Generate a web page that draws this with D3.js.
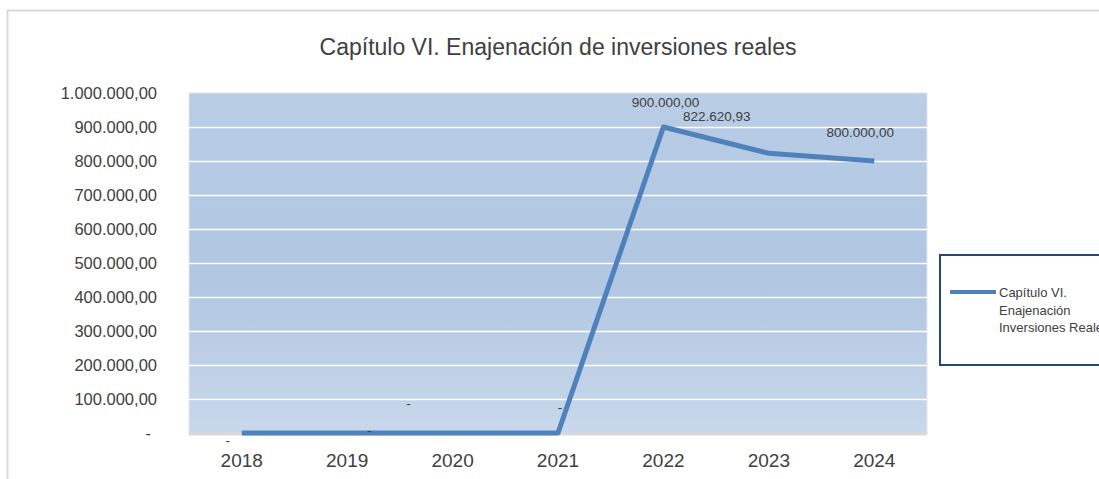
<!DOCTYPE html>
<html>
<head>
<meta charset="utf-8">
<script src="https://cdn.jsdelivr.net/npm/d3@7"></script>
<style>
  body { margin: 0; background: #fff; }
  svg { display: block; font-family: "Liberation Sans", Arial, sans-serif; }
</style>
</head>
<body>
<div id="chart"></div>
<script>
// data
var years = ["2018", "2019", "2020", "2021", "2022", "2023", "2024"];
var values = [0, 0, 0, 0, 900000, 822620.93, 800000];
var yTicks = [0, 100000, 200000, 300000, 400000, 500000, 600000, 700000, 800000, 900000, 1000000];
var seriesName = ["Capítulo VI.", "Enajenación", "Inversiones Reales"];
var title = "Capítulo VI. Enajenación de inversiones reales";

var svgWidth = 1099;
var svgHeight = 479;

var margin = { top: 93, left: 189, right: 172, bottom: 45 };
var width = svgWidth - margin.left - margin.right;
var height = svgHeight - margin.top - margin.bottom;

var es = d3.formatLocale({ decimal: ",", thousands: ".", grouping: [3], currency: ["", " €"] });
var fmt = es.format(",.2f");
function label(v) { return v === 0 ? "-" : fmt(v); }

var svg = d3.select("#chart")
  .append("svg")
  .attr("width", svgWidth)
  .attr("height", svgHeight);

// outer chart border (runs off the right/bottom edges)
svg.append("rect")
  .attr("x", 7.5).attr("y", 10.5)
  .attr("width", 1200).attr("height", 600)
  .attr("fill", "none")
  .attr("stroke", "#d9d9d9")
  .attr("stroke-width", 2);

// gradient for plot area
var grad = svg.append("defs").append("linearGradient")
  .attr("id", "bg").attr("x1", 0).attr("y1", 0).attr("x2", 0).attr("y2", 1);
grad.append("stop").attr("offset", "0%").attr("stop-color", "#b9cde5");
grad.append("stop").attr("offset", "55%").attr("stop-color", "#b0c6e1");
grad.append("stop").attr("offset", "100%").attr("stop-color", "#c9d8eb");

svg.append("text")
  .attr("x", 558).attr("y", 55)
  .attr("text-anchor", "middle")
  .attr("font-size", 23)
  .attr("fill", "#404040")
  .text(title);

var chartGroup = svg.append("g")
  .attr("transform", `translate(${margin.left}, ${margin.top})`);

// scales
var xScale = d3.scaleBand()
  .domain(years)
  .range([0, width]);

var yScale = d3.scaleLinear()
  .domain([0, 1000000])
  .range([height - 1, 0]);

chartGroup.append("rect")
  .attr("x", 0).attr("y", 0)
  .attr("width", width).attr("height", height)
  .attr("fill", "url(#bg)")
  .attr("stroke", "#e6e6e6")
  .attr("stroke-width", 1);

// gridlines
chartGroup.selectAll(".grid")
  .data(yTicks.filter(d => d > 0 && d < 1000000))
  .enter()
  .append("line")
  .attr("x1", 0).attr("x2", width)
  .attr("y1", d => Math.round(yScale(d)) + 0.5)
  .attr("y2", d => Math.round(yScale(d)) + 0.5)
  .attr("stroke", "#ffffff")
  .attr("stroke-width", 1.5);

// x axis line
chartGroup.append("line")
  .attr("x1", 0).attr("x2", width)
  .attr("y1", height).attr("y2", height)
  .attr("stroke", "#d9d9d9")
  .attr("stroke-width", 3);

// y axis
var yAxis = d3.axisLeft(yScale)
  .tickValues(yTicks)
  .tickSize(0)
  .tickPadding(32)
  .tickFormat(label);

var yG = chartGroup.append("g").call(yAxis);
yG.select(".domain").remove();
yG.selectAll("text")
  .attr("font-size", 16.5)
  .attr("font-family", "Liberation Sans, Arial, sans-serif")
  .attr("fill", "#404040")
  .attr("dx", d => d === 0 ? -6 : 0);

// x axis
var xAxis = d3.axisBottom(xScale).tickSize(0).tickPadding(20);
var xG = chartGroup.append("g")
  .attr("transform", `translate(0, ${height})`)
  .call(xAxis);
xG.select(".domain").remove();
xG.selectAll("text")
  .attr("font-size", 19)
  .attr("font-family", "Liberation Sans, Arial, sans-serif")
  .attr("fill", "#404040");

// line
var line = d3.line()
  .x(d => xScale(d.year) + xScale.bandwidth() / 2)
  .y(d => yScale(d.value));

var points = years.map((y, i) => ({ year: y, value: values[i] }));

chartGroup.append("path")
  .datum(points)
  .attr("d", line)
  .attr("fill", "none")
  .attr("stroke", "#4f81bd")
  .attr("stroke-width", 5)
  .attr("stroke-linejoin", "round");

// data labels (offsets from each point)
var labelOffsets = [[-14, 12], [22, 2], [-44, -25], [2, -21], [2, -20], [-52, -32], [-14, -24]];

chartGroup.selectAll(".dl")
  .data(points)
  .enter()
  .append("text")
  .attr("x", (d, i) => xScale(d.year) + xScale.bandwidth() / 2 + labelOffsets[i][0])
  .attr("y", (d, i) => yScale(d.value) + labelOffsets[i][1])
  .attr("text-anchor", "middle")
  .attr("font-size", 13.5)
  .attr("fill", "#404040")
  .text(d => label(d.value));

// legend
var legend = svg.append("g");
legend.append("rect")
  .attr("x", 940).attr("y", 255)
  .attr("width", 200).attr("height", 110)
  .attr("fill", "#fff")
  .attr("stroke", "#1f497d")
  .attr("stroke-width", 2);
legend.append("line")
  .attr("x1", 950).attr("x2", 996)
  .attr("y1", 292).attr("y2", 292)
  .attr("stroke", "#4f81bd")
  .attr("stroke-width", 4);
legend.selectAll(".lt")
  .data(seriesName)
  .enter()
  .append("text")
  .attr("x", 999)
  .attr("y", (d, i) => 297 + i * 17.5)
  .attr("font-size", 13)
  .attr("font-family", "Liberation Sans Narrow, Arial Narrow, sans-serif")
  .attr("fill", "#404040")
  .text(d => d);
</script>
</body>
</html>
